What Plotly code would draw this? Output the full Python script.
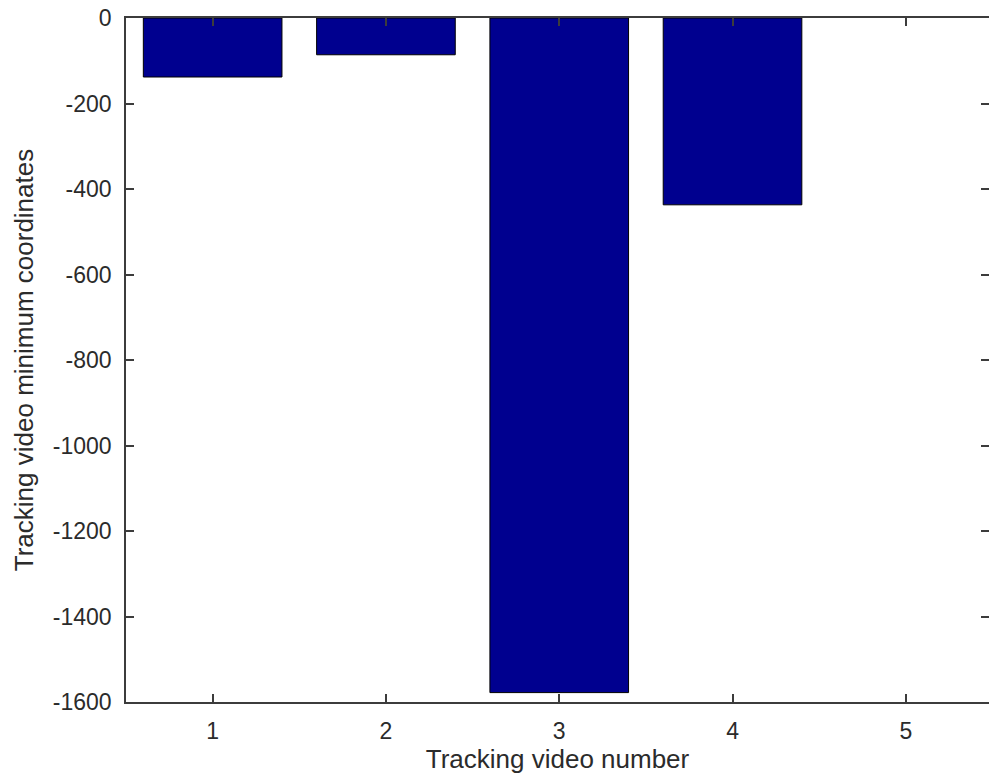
import plotly.graph_objects as go

video_numbers = [1, 2, 3, 4, 5]
min_coordinates = [-138, -86, -1578, -437, 0]
y_ticks = [0, -200, -400, -600, -800, -1000, -1200, -1400, -1600]

FONT = "Liberation Sans, Arial, sans-serif"
TXT = "#2b2b2b"
AX = "#3c3c3c"

edge_widths = [1 if v != 0 else 0 for v in min_coordinates]

fig = go.Figure()
fig.add_trace(go.Bar(
    x=video_numbers,
    y=min_coordinates,
    width=0.8,
    marker=dict(color="#00008F", line=dict(color="#000000", width=edge_widths)),
))
# invisible trace on a right-hand axis to carry the right-side ticks (no line)
fig.add_trace(go.Scatter(x=video_numbers, y=min_coordinates, yaxis="y2",
                         mode="markers", marker=dict(opacity=0), hoverinfo="skip",
                         showlegend=False))

fig.update_layout(
    width=989,
    height=778,
    margin=dict(l=126, r=0, t=18, b=76),
    paper_bgcolor="white",
    plot_bgcolor="white",
    showlegend=False,
    font=dict(family=FONT, size=23, color=TXT),
    xaxis=dict(
        range=[0.5, 5.48],
        tickmode="array",
        tickvals=video_numbers,
        ticktext=[str(v) for v in video_numbers],
        ticks="inside", ticklen=8, tickcolor=AX, tickwidth=1.5,
        showline=True, linecolor=AX, linewidth=1.5, mirror="ticks",
        showgrid=False, zeroline=False, ticklabelstandoff=8,
        title=dict(text="Tracking video number", font=dict(size=26, color=TXT), standoff=2),
    ),
    yaxis=dict(
        range=[-1600, 0],
        tickmode="array",
        tickvals=y_ticks,
        ticktext=[str(v) for v in y_ticks],
        ticks="inside", ticklen=8, tickcolor=AX, tickwidth=1.5,
        showline=True, linecolor=AX, linewidth=1.5, mirror=False,
        showgrid=False, zeroline=False, ticklabelstandoff=8,
        title=dict(text="Tracking video minimum coordinates", font=dict(size=26, color=TXT), standoff=12),
    ),
    yaxis2=dict(
        overlaying="y", side="right", range=[-1600, 0],
        tickmode="array", tickvals=y_ticks, showticklabels=False,
        ticks="inside", ticklen=8, tickcolor=AX, tickwidth=1.5,
        showline=False, showgrid=False, zeroline=False,
    ),
)

fig.write_html("out.html")
